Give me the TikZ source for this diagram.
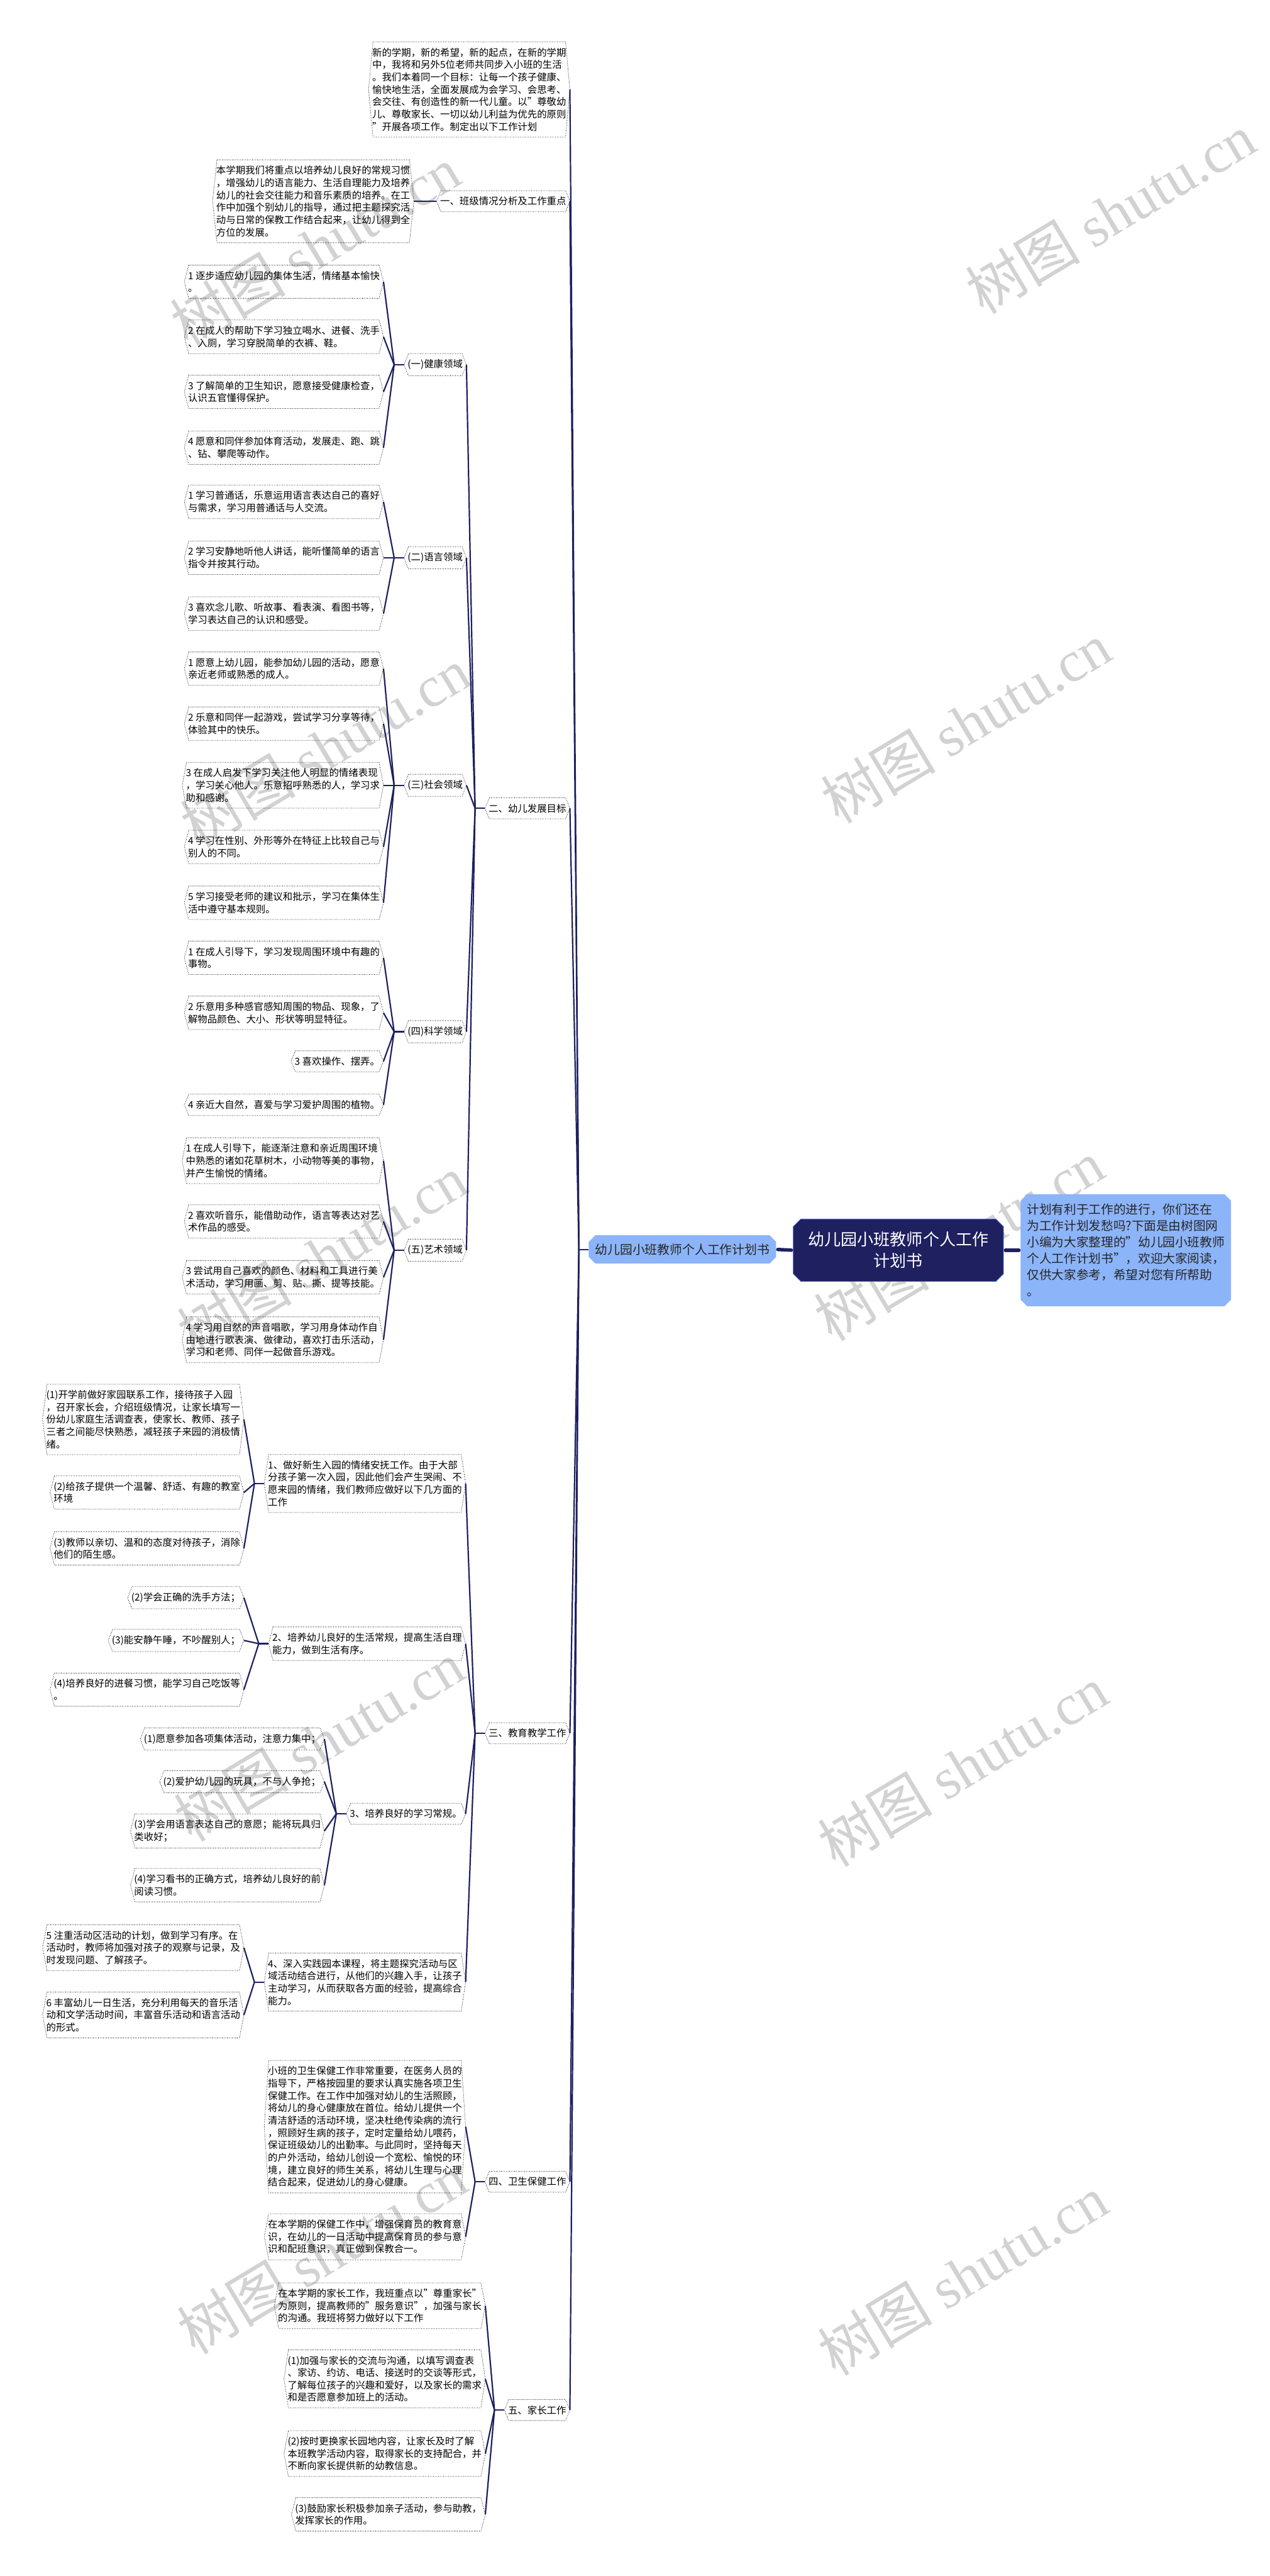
\documentclass[tikz,border=0pt]{standalone}
\usepackage{fontspec}
\setmainfont{Noto Sans CJK SC}
\newfontfamily\wmfont{Liberation Serif}
\usetikzlibrary{shapes.misc}
\definecolor{linknavy}{HTML}{1E2060}
\definecolor{paleblue}{HTML}{8CB4F8}
\definecolor{rootrim}{HTML}{3E64D6}
\definecolor{wmgray}{HTML}{D2D2D2}
\newcommand\leaffont{\fontsize{8.4}{10.7}\selectfont}
% dotted hexagon outline round a named node
\newcommand\hexrim[1]{\draw[rim] ([xshift=3.8pt]#1.north west) -- ([xshift=-3.8pt]#1.north east) -- (#1.east) -- ([xshift=-3.8pt]#1.south east) -- ([xshift=3.8pt]#1.south west) -- (#1.west) -- cycle;}
\begin{document}
\begin{tikzpicture}[x=0.05cm, y=-0.05cm,
  leaf/.style={anchor=east, align=left, inner xsep=3pt, inner ysep=5pt, font=\leaffont},
  rim/.style={densely dotted, line width=0.45pt},
  link/.style={draw=linknavy, line width=1.2pt},
  stub/.style={draw=linknavy, line width=3pt, line cap=round, shorten <=1.5pt, shorten >=1.5pt},
  watermark/.style={text=wmgray, rotate=31, font=\fontsize{50}{50}\selectfont}]
\useasboundingbox (0,0) rectangle (773,1568);

% watermarks
\node[watermark] (wm1) at (192,150) {树图 {\wmfont shutu.cn}};
\node[watermark] (wm2) at (676,130) {树图 {\wmfont shutu.cn}};
\node[watermark] (wm3) at (198,455) {树图 {\wmfont shutu.cn}};
\node[watermark] (wm4) at (588,440) {树图 {\wmfont shutu.cn}};
\node[watermark] (wm5) at (196,764) {树图 {\wmfont shutu.cn}};
\node[watermark] (wm6) at (584,755) {树图 {\wmfont shutu.cn}};
\node[watermark] (wm7) at (194,1060) {树图 {\wmfont shutu.cn}};
\node[watermark] (wm8) at (586,1075) {树图 {\wmfont shutu.cn}};
\node[watermark] (wm9) at (196,1372) {树图 {\wmfont shutu.cn}};
\node[watermark] (wm10) at (586,1385) {树图 {\wmfont shutu.cn}};

% centre
\node[chamfered rectangle, chamfered rectangle xsep=3pt, fill=linknavy, draw=rootrim, text=white,
  align=center, minimum width=6.4cm, minimum height=1.9cm, font=\fontsize{14.2}{18.5}\selectfont] (root) at (547,761) {幼儿园小班教师个人工作\\计划书};
\node[chamfered rectangle, chamfered rectangle xsep=2pt, fill=paleblue, draw=paleblue, text=black!85,
  minimum width=5.65cm, minimum height=0.85cm, font=\fontsize{10.8}{13}\selectfont] (hub) at (415.5,760.5) {幼儿园小班教师个人工作计划书};
\node[chamfered rectangle, chamfered rectangle xsep=2pt, fill=paleblue, draw=paleblue, text=black!85,
  align=left, minimum width=6.25cm, minimum height=3.4cm, font=\fontsize{10.7}{14.2}\selectfont] (note) at (685.5,761) {计划有利于工作的进行，你们还在\\为工作计划发愁吗?下面是由树图网\\小编为大家整理的"幼儿园小班教师\\个人工作计划书"，欢迎大家阅读，\\仅供大家参考，希望对您有所帮助\\。};
\draw[stub] (root.west) -- (hub.east);
\draw[stub] (root.east) -- (note.west);

% first level
\node[leaf] (intro) at (347,54.5) {新的学期，新的希望，新的起点，在新的学期\\中，我将和另外5位老师共同步入小班的生活\\。我们本着同一个目标：让每一个孩子健康、\\愉快地生活，全面发展成为会学习、会思考、\\会交往、有创造性的新一代儿童。以"尊敬幼\\儿、尊敬家长、一切以幼儿利益为优先的原则\\"开展各项工作。制定出以下工作计划};
\node[leaf] (s1) at (347,122.5) {一、班级情况分析及工作重点};
\node[leaf] (s2) at (347,492) {二、幼儿发展目标};
\node[leaf] (s3) at (347,1055) {三、教育教学工作};
\node[leaf] (s4) at (347,1328) {四、卫生保健工作};
\node[leaf] (s5) at (347,1467) {五、家长工作};

% 一
\node[leaf] (s1a) at (252,122.5) {本学期我们将重点以培养幼儿良好的常规习惯\\，增强幼儿的语言能力、生活自理能力及培养\\幼儿的社会交往能力和音乐素质的培养。在工\\作中加强个别幼儿的指导，通过把主题探究活\\动与日常的保教工作结合起来，让幼儿得到全\\方位的发展。};

% 二
\node[leaf] (health) at (284,222) {(一)健康领域};
\node[leaf] (lang) at (284,339.5) {(二)语言领域};
\node[leaf] (social) at (284,478) {(三)社会领域};
\node[leaf] (science) at (284,628) {(四)科学领域};
\node[leaf] (art) at (284,761) {(五)艺术领域};

\node[leaf] (health1) at (233.5,171.5) {1 逐步适应幼儿园的集体生活，情绪基本愉快\\。};
\node[leaf] (health2) at (233.5,205) {2 在成人的帮助下学习独立喝水、进餐、洗手\\、入厕，学习穿脱简单的衣裤、鞋。};
\node[leaf] (health3) at (233.5,238.5) {3 了解简单的卫生知识，愿意接受健康检查，\\认识五官懂得保护。};
\node[leaf] (health4) at (233.5,272.5) {4 愿意和同伴参加体育活动，发展走、跑、跳\\、钻、攀爬等动作。};

\node[leaf] (lang1) at (233.5,305.5) {1 学习普通话，乐意运用语言表达自己的喜好\\与需求，学习用普通话与人交流。};
\node[leaf] (lang2) at (233.5,339.5) {2 学习安静地听他人讲话，能听懂简单的语言\\指令并按其行动。};
\node[leaf] (lang3) at (233.5,373.5) {3 喜欢念儿歌、听故事、看表演、看图书等，\\学习表达自己的认识和感受。};

\node[leaf] (social1) at (233.5,407) {1 愿意上幼儿园，能参加幼儿园的活动，愿意\\亲近老师或熟悉的成人。};
\node[leaf] (social2) at (233.5,440.5) {2 乐意和同伴一起游戏，尝试学习分享等待，\\体验其中的快乐。};
\node[leaf] (social3) at (233.5,478) {3 在成人启发下学习关注他人明显的情绪表现\\，学习关心他人。乐意招呼熟悉的人，学习求\\助和感谢。};
\node[leaf] (social4) at (233.5,515.5) {4 学习在性别、外形等外在特征上比较自己与\\别人的不同。};
\node[leaf] (social5) at (233.5,549.5) {5 学习接受老师的建议和批示，学习在集体生\\活中遵守基本规则。};

\node[leaf] (science1) at (233.5,583) {1 在成人引导下，学习发现周围环境中有趣的\\事物。};
\node[leaf] (science2) at (233.5,616.5) {2 乐意用多种感官感知周围的物品、现象，了\\解物品颜色、大小、形状等明显特征。};
\node[leaf] (science3) at (233.5,646) {3 喜欢操作、摆弄。};
\node[leaf] (science4) at (233.5,672.5) {4 亲近大自然，喜爱与学习爱护周围的植物。};

\node[leaf] (art1) at (233.5,706.5) {1 在成人引导下，能逐渐注意和亲近周围环境\\中熟悉的诸如花草树木，小动物等美的事物，\\并产生愉悦的情绪。};
\node[leaf] (art2) at (233.5,743.5) {2 喜欢听音乐，能借助动作，语言等表达对艺\\术作品的感受。};
\node[leaf] (art3) at (233.5,777.5) {3 尝试用自己喜欢的颜色、材料和工具进行美\\术活动，学习用画、剪、贴、撕、提等技能。};
\node[leaf] (art4) at (233.5,815.5) {4 学习用自然的声音唱歌，学习用身体动作自\\由地进行歌表演、做律动，喜欢打击乐活动，\\学习和老师、同伴一起做音乐游戏。};

% 三
\node[leaf] (teach1) at (283.5,903) {1、做好新生入园的情绪安抚工作。由于大部\\分孩子第一次入园，因此他们会产生哭闹、不\\愿来园的情绪，我们教师应做好以下几方面的\\工作};
\node[leaf] (teach2) at (283.5,1000.5) {2、培养幼儿良好的生活常规，提高生活自理\\能力，做到生活有序。};
\node[leaf] (teach3) at (283.5,1104) {3、培养良好的学习常规。};
\node[leaf] (teach4) at (283.5,1206.5) {4、深入实践园本课程，将主题探究活动与区\\域活动结合进行，从他们的兴趣入手，让孩子\\主动学习，从而获取各方面的经验，提高综合\\能力。};

\node[leaf] (teach1a) at (148.5,864) {(1)开学前做好家园联系工作，接待孩子入园\\，召开家长会，介绍班级情况，让家长填写一\\份幼儿家庭生活调查表，使家长、教师、孩子\\三者之间能尽快熟悉，减轻孩子来园的消极情\\绪。};
\node[leaf] (teach1b) at (148.5,908.5) {(2)给孩子提供一个温馨、舒适、有趣的教室\\环境};
\node[leaf] (teach1c) at (148.5,942.5) {(3)教师以亲切、温和的态度对待孩子，消除\\他们的陌生感。};

\node[leaf] (teach2a) at (148.5,972.5) {(2)学会正确的洗手方法；};
\node[leaf] (teach2b) at (148.5,998.5) {(3)能安静午睡，不吵醒别人；};
\node[leaf] (teach2c) at (148.5,1028.5) {(4)培养良好的进餐习惯，能学习自己吃饭等\\。};

\node[leaf] (teach3a) at (197.5,1058.5) {(1)愿意参加各项集体活动，注意力集中；};
\node[leaf] (teach3b) at (197.5,1084.5) {(2)爱护幼儿园的玩具，不与人争抢；};
\node[leaf] (teach3c) at (197.5,1114.5) {(3)学会用语言表达自己的意愿；能将玩具归\\类收好；};
\node[leaf] (teach3d) at (197.5,1147.5) {(4)学习看书的正确方式，培养幼儿良好的前\\阅读习惯。};

\node[leaf] (teach4a) at (148.5,1185.5) {5 注重活动区活动的计划，做到学习有序。在\\活动时，教师将加强对孩子的观察与记录，及\\时发现问题、了解孩子。};
\node[leaf] (teach4b) at (148.5,1226.5) {6 丰富幼儿一日生活，充分利用每天的音乐活\\动和文学活动时间，丰富音乐活动和语言活动\\的形式。};

% 四
\node[leaf] (care1) at (283.5,1294.5) {小班的卫生保健工作非常重要，在医务人员的\\指导下，严格按园里的要求认真实施各项卫生\\保健工作。在工作中加强对幼儿的生活照顾，\\将幼儿的身心健康放在首位。给幼儿提供一个\\清洁舒适的活动环境，坚决杜绝传染病的流行\\，照顾好生病的孩子，定时定量给幼儿喂药，\\保证班级幼儿的出勤率。与此同时，坚持每天\\的户外活动，给幼儿创设一个宽松、愉悦的环\\境，建立良好的师生关系，将幼儿生理与心理\\结合起来，促进幼儿的身心健康。};
\node[leaf] (care2) at (283.5,1361.5) {在本学期的保健工作中，增强保育员的教育意\\识，在幼儿的一日活动中提高保育员的参与意\\识和配班意识，真正做到保教合一。};

% 五
\node[leaf] (home1) at (295.5,1403.5) {在本学期的家长工作，我班重点以"尊重家长"\\为原则，提高教师的"服务意识"，加强与家长\\的沟通。我班将努力做好以下工作};
\node[leaf] (home2) at (295.5,1448) {(1)加强与家长的交流与沟通，以填写调查表\\、家访、约访、电话、接送时的交谈等形式，\\了解每位孩子的兴趣和爱好，以及家长的需求\\和是否愿意参加班上的活动。};
\node[leaf] (home3) at (295.5,1493.5) {(2)按时更换家长园地内容，让家长及时了解\\本班教学活动内容，取得家长的支持配合，并\\不断向家长提供新的幼教信息。};
\node[leaf] (home4) at (295.5,1530.5) {(3)鼓励家长积极参加亲子活动，参与助教，\\发挥家长的作用。};

% outlines
\foreach \n in {intro,s1,s2,s3,s4,s5,s1a,health,lang,social,science,art,
  health1,health2,health3,health4,lang1,lang2,lang3,
  social1,social2,social3,social4,social5,science1,science2,science3,science4,
  art1,art2,art3,art4,teach1,teach2,teach3,teach4,teach1a,teach1b,teach1c,
  teach2a,teach2b,teach2c,teach3a,teach3b,teach3c,teach3d,teach4a,teach4b,
  care1,care2,home1,home2,home3,home4}
  {\hexrim{\n}}

% connectors
\draw[link] (hub.west) -- ++(-6,0) coordinate (hubj);
\foreach \c in {intro,s1,s2,s3,s4,s5} \draw[link] (hubj) -- (\c.east);
\draw[link] (s1.west) -- (s1a.east);
\draw[link] (s2.west) -- ++(-6,0) coordinate (s2j);
\foreach \c in {health,lang,social,science,art} \draw[link] (s2j) -- (\c.east);
\draw[link] (health.west) -- ++(-6,0) coordinate (healthj);
\foreach \c in {health1,health2,health3,health4} \draw[link] (healthj) -- (\c.east);
\draw[link] (lang.west) -- ++(-6,0) coordinate (langj);
\foreach \c in {lang1,lang2,lang3} \draw[link] (langj) -- (\c.east);
\draw[link] (social.west) -- ++(-6,0) coordinate (socialj);
\foreach \c in {social1,social2,social3,social4,social5} \draw[link] (socialj) -- (\c.east);
\draw[link] (science.west) -- ++(-6,0) coordinate (sciencej);
\foreach \c in {science1,science2,science3,science4} \draw[link] (sciencej) -- (\c.east);
\draw[link] (art.west) -- ++(-6,0) coordinate (artj);
\foreach \c in {art1,art2,art3,art4} \draw[link] (artj) -- (\c.east);
\draw[link] (s3.west) -- ++(-6,0) coordinate (s3j);
\foreach \c in {teach1,teach2,teach3,teach4} \draw[link] (s3j) -- (\c.east);
\draw[link] (teach1.west) -- ++(-6,0) coordinate (teach1j);
\foreach \c in {teach1a,teach1b,teach1c} \draw[link] (teach1j) -- (\c.east);
\draw[link] (teach2.west) -- ++(-6,0) coordinate (teach2j);
\foreach \c in {teach2a,teach2b,teach2c} \draw[link] (teach2j) -- (\c.east);
\draw[link] (teach3.west) -- ++(-6,0) coordinate (teach3j);
\foreach \c in {teach3a,teach3b,teach3c,teach3d} \draw[link] (teach3j) -- (\c.east);
\draw[link] (teach4.west) -- ++(-6,0) coordinate (teach4j);
\foreach \c in {teach4a,teach4b} \draw[link] (teach4j) -- (\c.east);
\draw[link] (s4.west) -- ++(-6,0) coordinate (s4j);
\foreach \c in {care1,care2} \draw[link] (s4j) -- (\c.east);
\draw[link] (s5.west) -- ++(-6,0) coordinate (s5j);
\foreach \c in {home1,home2,home3,home4} \draw[link] (s5j) -- (\c.east);
\end{tikzpicture}
\end{document}
